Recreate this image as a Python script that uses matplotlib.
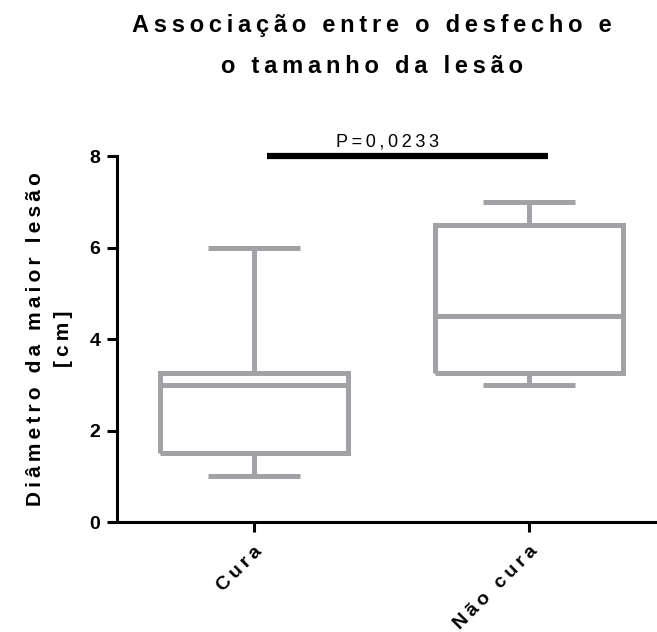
import matplotlib.pyplot as plt

plt.rcParams['font.family'] = ['Liberation Sans', 'DejaVu Sans']

# dados
categorias = ['Cura', 'Não cura']
minimo = [1.0, 3.0]
q1 = [1.5, 3.25]
mediana = [3.0, 4.5]
q3 = [3.25, 6.5]
maximo = [6.0, 7.0]
p_valor = 'P=0,0233'
yticks = [0, 2, 4, 6, 8]

cinza = '#a2a1a5'


def espacado(texto):
    # imita o espaçamento largo entre letras do original
    return '\u2009'.join(texto)


fig = plt.figure(figsize=(6.57, 6.32), dpi=100)
ax = fig.add_axes([0.178, 0.174, 0.822, 0.579])

stats = []
for i, nome in enumerate(categorias):
    stats.append({'label': nome, 'whislo': minimo[i], 'q1': q1[i], 'med': mediana[i],
                  'q3': q3[i], 'whishi': maximo[i]})

props = dict(color=cinza, linewidth=3.6, solid_capstyle='butt', solid_joinstyle='miter')
ax.bxp(stats, positions=[1, 2], widths=0.684, capwidths=0.335, showfliers=False,
       boxprops=props, whiskerprops=props, capprops=props, medianprops=props)

ax.set_xlim(0.502, 2.465)
ax.set_ylim(0, 8)
ax.set_yticks(yticks)
ax.set_yticklabels([str(t) for t in yticks], fontsize=14, fontweight='bold')
ax.set_xticks([1, 2])
ax.set_xticklabels([espacado(c) for c in categorias], rotation=45, ha='right',
                   rotation_mode='anchor', fontsize=14, fontweight='bold')

for s in ['top', 'right']:
    ax.spines[s].set_visible(False)
for s in ['left', 'bottom']:
    ax.spines[s].set_linewidth(2.2)
ax.tick_params(width=2.2, length=7, pad=5)
ax.tick_params(axis='x', pad=8)

ax.set_ylabel(espacado('Diâmetro da maior lesão') + '\n' + espacado('[cm]'),
              fontsize=15, fontweight='bold', labelpad=12, linespacing=1.55)

# barra de significância
ax.plot([1.047, 2.069], [8, 8], color='black', linewidth=4.5, clip_on=False,
        solid_capstyle='butt')
ax.text(1.487, 8.12, espacado(p_valor), ha='center', va='bottom', fontsize=13)

fig.text(0.566, 0.978, espacado('Associação entre o desfecho e') + '\n' +
         espacado('o tamanho da lesão'), ha='center', va='top',
         fontsize=17, fontweight='bold', linespacing=2.0)

fig.savefig('out.png', dpi=100)
